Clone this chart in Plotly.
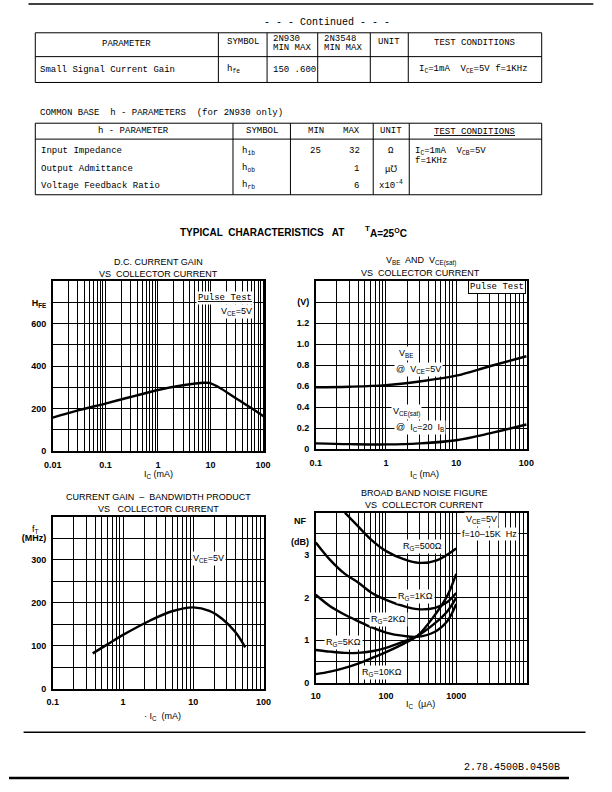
import plotly.graph_objects as go

W, H = 612, 792

# ---------------- data ----------------
dc_ic = [0.01, 0.03, 0.1, 0.3, 1, 3, 7.5, 9.5, 16, 33, 67, 105]
dc_hfe = [158, 192, 224, 255, 288, 310, 322, 321, 294, 243, 195, 162]

sat_ic = [0.1, 0.3, 1, 3, 10, 30, 100]
vbe = [0.59, 0.595, 0.61, 0.645, 0.70, 0.79, 0.885]
vcesat = [0.055, 0.048, 0.045, 0.055, 0.085, 0.15, 0.235]

ft_ic = [0.37, 0.6, 1, 2.4, 5, 10, 17, 26, 40, 55]
ft = [82, 103, 125, 158, 180, 189, 181, 162, 131, 96]

nf_ic_500 = [26, 38, 63, 102, 183, 295, 528, 1000]
nf_500 = [4.0, 3.72, 3.35, 3.09, 2.9, 2.82, 2.88, 3.16]
nf_ic = [10, 16, 26, 40, 63, 100, 180, 280, 500, 750, 1000]
nf_1k = [3.3, 2.89, 2.56, 2.36, 2.11, 1.95, 1.8, 1.73, 1.76, 1.9, 2.11]
nf_2k = [2.07, 1.8, 1.6, 1.45, 1.3, 1.18, 1.1, 1.08, 1.2, 1.45, 1.85]
nf_5k = [0.77, 0.73, 0.7, 0.7, 0.74, 0.82, 0.97, 1.1, 1.4, 1.68, 2.0]
nf_10k = [0.2, 0.26, 0.35, 0.45, 0.58, 0.72, 0.92, 1.1, 1.6, 2.05, 2.56]

# tick labels
dc_x_major = [0.01, 0.1, 1, 10, 100]
dc_x_text = ["0.01", "0.1", "1", "10", "100"]
ma_x_major = [0.1, 1, 10, 100]
ma_x_text = ["0.1", "1", "10", "100"]
ua_x_major = [10, 100, 1000, 10000]
ua_x_text = ["10", "100", "1000", ""]

dc_y_vals = [0, 100, 200, 300, 400, 500, 600, 700, 800]
dc_y_text = ["0", "", "200", "", "400", "", "600", "H<sub>FE</sub>", ""]
sat_y_vals = [0, 0.2, 0.4, 0.6, 0.8, 1.0, 1.2, 1.4, 1.6]
sat_y_text = ["0", "0.2", "0.4", "0.6", "0.8", "1.0", "1.2", "(V)", ""]
ft_y_vals = [0, 50, 100, 150, 200, 250, 300, 350, 400]
ft_y_text = ["0", "", "100", "", "200", "", "300", "(MHz)", ""]
nf_y_vals = [0, 0.5, 1, 1.5, 2, 2.5, 3, 3.5, 4]
nf_y_text = ["0", "", "1", "", "2", "", "3", "", ""]


def log_axis(major_vals, major_text):
    vals, text = [], []
    for i, v in enumerate(major_vals):
        vals.append(v)
        text.append(major_text[i])
        if i < len(major_vals) - 1:
            for m in range(2, 10):
                vals.append(v * m)
                text.append("")
    return vals, text


def P(x, y):
    return x / W, 1 - y / H


SANS = "Liberation Sans"
MONO = "Liberation Mono"

fig = go.Figure()
line = dict(color="black", width=2.4)
fig.add_trace(go.Scatter(x=dc_ic, y=dc_hfe, mode="lines", line=dict(line, shape="spline", smoothing=0.6), xaxis="x", yaxis="y"))
fig.add_trace(go.Scatter(x=sat_ic, y=vbe, mode="lines", line=dict(line, shape="spline"), xaxis="x2", yaxis="y2"))
fig.add_trace(go.Scatter(x=sat_ic, y=vcesat, mode="lines", line=dict(line, shape="spline"), xaxis="x2", yaxis="y2"))
fig.add_trace(go.Scatter(x=ft_ic, y=ft, mode="lines", line=dict(line, shape="spline"), xaxis="x3", yaxis="y3"))
fig.add_trace(go.Scatter(x=nf_ic_500, y=nf_500, mode="lines", line=dict(line, shape="spline"), xaxis="x4", yaxis="y4"))
for ys in (nf_1k, nf_2k, nf_5k, nf_10k):
    fig.add_trace(go.Scatter(x=nf_ic, y=ys, mode="lines", line=dict(line, shape="spline"), xaxis="x4", yaxis="y4"))

common = dict(showline=True, linecolor="black", linewidth=1.6, mirror=True,
              showgrid=True, gridcolor="black", gridwidth=0.9, ticks="",
              zeroline=False, tickmode="array", fixedrange=True,
              tickfont=dict(family=SANS, size=9, color="black", weight="bold"))
xcommon = dict(common, type="log", ticklabelstandoff=4)
ycommon = dict(common, ticklabelstandoff=3)

def dom(l, r, t, b):
    return [l / W, r / W], [1 - b / H, 1 - t / H]

boxes = [dom(45, 262, 283, 454), dom(315, 532, 283, 452),
         dom(45, 262, 520, 693), dom(315, 532, 516, 687)]

xv1, xt1 = log_axis(dc_x_major, dc_x_text)
xv2, xt2 = log_axis(ma_x_major, ma_x_text)
xv4, xt4 = log_axis(ua_x_major, ua_x_text)

layout_axes = {
    "xaxis": dict(xcommon, range=[-2, 2.02], domain=boxes[0][0], anchor="y", tickvals=xv1, ticktext=xt1),
    "yaxis": dict(ycommon, range=[0, 800], domain=boxes[0][1], anchor="x", tickvals=dc_y_vals, ticktext=dc_y_text),
    "xaxis2": dict(xcommon, range=[-1, 2.01], domain=boxes[1][0], anchor="y2", tickvals=xv2, ticktext=xt2),
    "yaxis2": dict(ycommon, range=[0, 1.6], domain=boxes[1][1], anchor="x2", tickvals=sat_y_vals, ticktext=sat_y_text),
    "xaxis3": dict(xcommon, range=[-1, 2.01], domain=boxes[2][0], anchor="y3", tickvals=xv2, ticktext=xt2),
    "yaxis3": dict(ycommon, range=[0, 400], domain=boxes[2][1], anchor="x3", tickvals=ft_y_vals, ticktext=ft_y_text),
    "xaxis4": dict(xcommon, range=[1, 4.01], domain=boxes[3][0], anchor="y4", tickvals=xv4, ticktext=xt4),
    "yaxis4": dict(ycommon, range=[0, 4], domain=boxes[3][1], anchor="x4", tickvals=nf_y_vals, ticktext=nf_y_text),
}

ann = []
def T(x, y, text, size=9, family=SANS, xanchor="center", bold=False, bg=None, border=None):
    px, py = P(x, y)
    d = dict(x=px, y=py, xref="paper", yref="paper", text=(f"<b>{text}</b>" if bold else text),
             showarrow=False, xanchor=xanchor, yanchor="middle",
             font=dict(family=family, size=size, color="black"), borderpad=1)
    if bg:
        d["bgcolor"] = bg
    if border:
        d["bordercolor"] = border
        d["borderwidth"] = 1
    ann.append(d)

# ---- top tables ----
T(327, 23, "- - - Continued - - -", 10, MONO)
T(121, 44, "PARAMETER", 9, MONO)
T(240, 42, "SYMBOL", 9, MONO)
T(269, 39, "2N930", 9, MONO, "left")
T(269, 48, "MIN MAX", 9, MONO, "left")
T(321, 39, "2N3548", 9, MONO, "left")
T(321, 48, "MIN MAX", 9, MONO, "left")
T(390, 42, "UNIT", 9, MONO)
T(478, 43, "TEST CONDITIONS", 9, MONO)
T(30, 70, "Small Signal Current Gain", 9, MONO, "left")
T(222, 70, "h<sub>fe</sub>", 9, MONO, "left")
T(269, 70, "150 .600", 9, MONO, "left")
T(419, 70, "I<sub>C</sub>=1mA  V<sub>CE</sub>=5V f=1KHz", 9, MONO, "left")

T(30, 114, "COMMON BASE  h - PARAMETERS  (for 2N930 only)", 9, MONO, "left")
T(128, 132, "h - PARAMETER", 9, MONO)
T(260, 132, "SYMBOL", 9, MONO)
T(315, 132, "MIN", 9, MONO)
T(352, 132, "MAX", 9, MONO)
T(392, 132, "UNIT", 9, MONO)
T(478, 133, "<u>TEST CONDITIONS</u>", 9, MONO)
for yy, lab, sym in [(152, "Input Impedance", "h<sub>ib</sub>"),
                     (170, "Output Admittance", "h<sub>ob</sub>"),
                     (187, "Voltage Feedback Ratio", "h<sub>rb</sub>")]:
    T(31, yy, lab, 9, MONO, "left")
    T(237, yy, sym, 9, MONO, "left")
T(315, 152, "25", 9, MONO)
T(355, 152, "32", 9, MONO)
T(357, 170, "1", 9, MONO)
T(357, 187, "6", 9, MONO)
T(392, 152, "Ω", 9, MONO)
T(392, 171, "μ℧", 9, MONO)
T(392, 186, "x10<sup>-4</sup>", 9, MONO)
T(415, 152, "I<sub>C</sub>=1mA  V<sub>CB</sub>=5V", 9, MONO, "left")
T(415, 162, "f=1KHz", 9, MONO, "left")

# ---- main title ----
T(260, 234, "TYPICAL  CHARACTERISTICS   AT", 10, SANS, bold=True)
T(363, 230, "T", 8, SANS, "left", bold=True)
T(369, 234, "A=25<sup>O</sup>C", 10, SANS, "left", bold=True)

# ---- chart titles ----
T(153, 264, "D.C. CURRENT GAIN", 9)
T(153, 276, "VS  COLLECTOR CURRENT", 9)
T(423, 263, "V<sub>BE</sub>  AND  V<sub>CE(sat)</sub>", 9)
T(423, 275, "VS  COLLECTOR CURRENT", 9)
T(153, 500, "CURRENT GAIN  –  BANDWIDTH PRODUCT", 9)
T(153, 512, "VS   COLLECTOR CURRENT", 9)
T(427, 496, "BROAD BAND NOISE FIGURE", 9)
T(427, 508, "VS  COLLECTOR CURRENT", 9)

# ---- axis titles ----
T(153, 478, "I<sub>C</sub> (mA)", 9)
T(427, 478, "I<sub>C</sub> (mA)", 9)
T(158, 721, "· I<sub>C</sub>  (mA)", 9)
T(423, 709, "I<sub>C</sub>  (μA)", 9)
T(27, 533, "f<sub>T</sub>", 9)
T(299, 524, "<b>NF</b>", 9)
T(299, 545, "<b>(dB)</b>", 9)

# ---- inside labels ----
T(252, 300, "<u>Pulse Test</u>", 9, MONO, "right", bg="white")
T(252, 313, "V<sub>CE</sub>=5V", 9, SANS, "right", bg="white")
T(531, 289, "Pulse Test", 9, MONO, "right", bg="white", border="black")
T(408, 356, "V<sub>BE</sub>", 9, SANS, bg="white")
T(421, 372, "@  V<sub>CE</sub>=5V", 9, SANS, bg="white")
T(408, 415, "V<sub>CE(sat)</sub>", 9, SANS, bg="white")
T(422, 430, "@  I<sub>C</sub>=20  I<sub>B</sub>", 9, SANS, bg="white")
T(205, 562, "V<sub>CE</sub>=5V", 9, SANS, bg="white")
T(485, 523, "V<sub>CE</sub>=5V", 9, SANS, bg="white")
T(493, 537, "f=10–15K  Hz", 9, SANS, bg="white")
T(425, 550, "R<sub>G</sub>=500Ω", 9, SANS, bg="white")
T(417, 600, "R<sub>G</sub>=1KΩ", 9, SANS, bg="white")
T(390, 623, "R<sub>G</sub>=2KΩ", 9, SANS, bg="white")
T(343, 647, "R<sub>G</sub>=5KΩ", 9, SANS, bg="white")
T(383, 677, "R<sub>G</sub>=10KΩ", 9, SANS, bg="white")

# ---- footer ----
T(517, 772, "2.78.4500B.0450B", 10, MONO)

# ---- table / page lines ----
shapes = []
def L(x0, y0, x1, y1, w=1.0):
    a = P(x0, y0); b = P(x1, y1)
    shapes.append(dict(type="line", xref="paper", yref="paper", x0=a[0], y0=a[1], x1=b[0], y1=b[1],
                       line=dict(color="black", width=w)))

L(20, 4, 600, 4, 1.5)
# table 1
for yy in (33, 57, 83):
    L(27, yy, 547, yy, 1)
for xx in (27, 215, 265, 317, 371, 410, 547):
    L(xx, 33, xx, 83, 1)
# table 2
for yy in (124, 140, 196):
    L(27, yy, 547, yy, 1)
for xx in (27, 230, 289, 374, 411, 547):
    L(xx, 124, xx, 196, 1)
# page bottom
L(15, 737, 592, 737, 1.5)
L(0, 783, 575, 783, 2.5)

fig.update_layout(width=W, height=H, margin=dict(l=0, r=0, t=0, b=0),
                  paper_bgcolor="white", plot_bgcolor="white", showlegend=False,
                  annotations=ann, shapes=shapes, **layout_axes)

fig.write_html("out.html", config={"displayModeBar": False},
               post_script="document.body.style.margin='0px';document.body.style.overflow='hidden';")
